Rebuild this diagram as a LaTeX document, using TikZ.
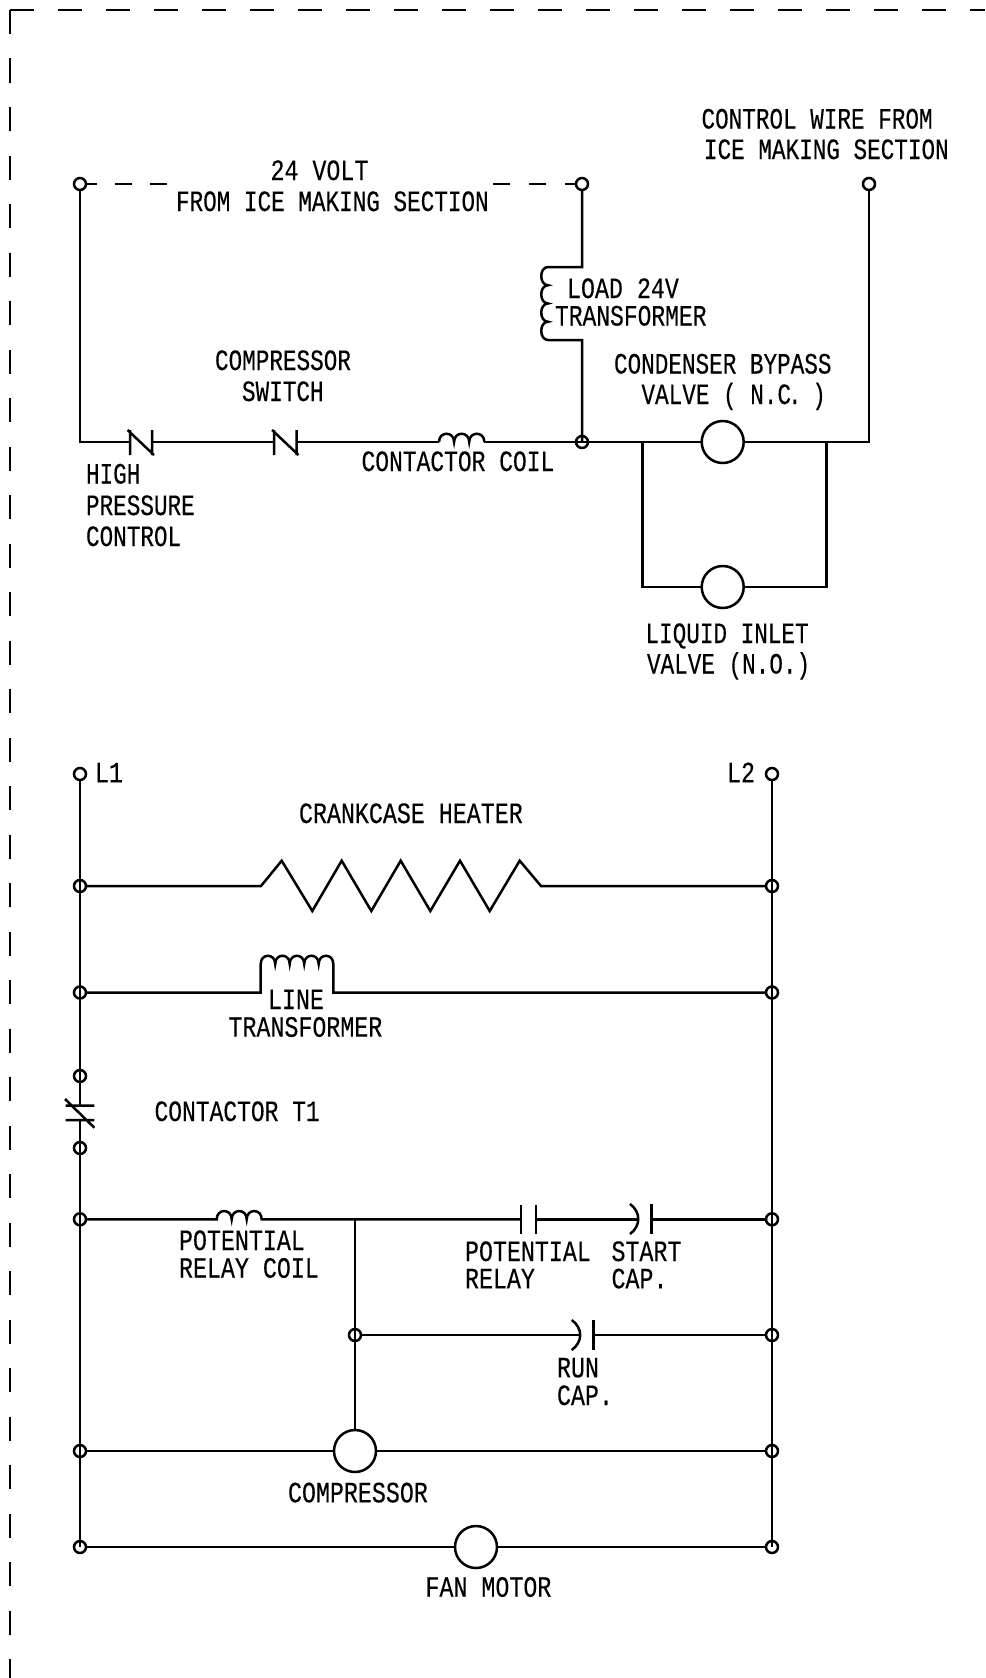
\documentclass[tikz,border=0pt]{standalone}
\usepackage{fontspec}
\newfontfamily\labfont[FakeStretch=0.79,FakeBold=0.25]{Liberation Mono}
\newfontfamily\labmid[FakeStretch=0.778,FakeBold=0.25]{Liberation Mono}
\newfontfamily\labnar[FakeStretch=0.768,FakeBold=0.25]{Liberation Mono}
\tikzset{
  wire/.style={line width=2.5pt,line join=miter,line cap=butt},
  term/.style={circle,draw,line width=2.5pt,minimum size=12pt,inner sep=0pt,outer sep=0pt},
  motor/.style={circle,draw,line width=2.5pt,minimum size=42pt,inner sep=0pt,outer sep=0pt},
  lab/.style={anchor=base west,inner sep=0pt,outer sep=0pt,font=\labfont\fontsize{29.5pt}{30pt}\selectfont},
  labm/.style={lab,font=\labmid\fontsize{29.5pt}{30pt}\selectfont},
  labn/.style={lab,font=\labnar\fontsize{29.5pt}{30pt}\selectfont},
}
\begin{document}
\begin{tikzpicture}[x=1pt,y=-1pt]
\useasboundingbox (0,0) rectangle (985,1678);
% --- outer dashed frame
\coordinate (corner) at (10,10);
\coordinate (frameR) at (985,10);
\coordinate (frameB) at (10,1678);
\draw[wire,dash pattern=on 24pt off 24pt] (corner) -- (frameR);
\draw[wire,dash pattern=on 24pt off 24.5pt] (corner) -- (frameB);

% --- upper circuit: named points
\node[term] (tA) at (80,184) {};
\node[term] (tB) at (582,184) {};
\node[term] (tC) at (869,184) {};
\node[term] (jV) at (582,442) {};
\node[motor] (vBypass) at (722.7,442) {};
\node[motor] (vLiquid) at (722.7,587) {};
\coordinate (dashL) at (167,184);
\coordinate (dashR) at (493,184);
\coordinate (cornerA) at (80,442);
\coordinate (cornerC) at (869,442);
\coordinate (sw1a) at (130,442);
\coordinate (sw1b) at (152,442);
\coordinate (sw2a) at (274,442);
\coordinate (sw2b) at (296.5,442);
\coordinate (coilA) at (439,442);
\coordinate (coilB) at (484.4,442);
\coordinate (brL) at (642.3,442);
\coordinate (brR) at (826.7,442);
\coordinate (brLb) at (642.3,587);
\coordinate (brRb) at (826.7,587);
\coordinate (loadT) at (582,267);
\coordinate (loadTc) at (548,267);
\coordinate (loadB) at (582,340);
\coordinate (loadBc) at (548,340);

\draw[wire,dash pattern=on 11pt off 18pt on 17pt off 18pt on 17pt off 100pt] (tA) -- (dashL);
\draw[wire,dash pattern=on 17pt off 19pt on 17pt off 19pt on 12pt off 100pt] (dashR) -- (tB);
\draw[wire] (tA) -- (cornerA) -- (sw1a);
% switches
\draw[wire] (130,430) -- (130,455) (152,430) -- (152,455) (127.5,430) -- (154,455);
\draw[wire] (274,430) -- (274,455) (296.5,430) -- (296.5,455) (272,430) -- (298.5,455);
\draw[wire] (sw1b) -- (sw2a);
\draw[wire] (sw2b) -- (coilA);
\draw[wire] (coilA) .. controls +(0,-11) and +(0,-11) .. ++(15.1,0)
                    .. controls +(0,-11) and +(0,-11) .. ++(15.1,0)
                    .. controls +(0,-11) and +(0,-11) .. (coilB);
\draw[wire] (coilB) -- (vBypass);
\draw[wire] (vBypass) -- (cornerC) -- (tC);
% load transformer
\draw[wire] (tB) -- (loadT) -- (loadTc)
  .. controls +(-9,0) and +(-9,0) .. ++(0,18.25)
  .. controls +(-9,0) and +(-9,0) .. ++(0,18.25)
  .. controls +(-9,0) and +(-9,0) .. ++(0,18.25)
  .. controls +(-9,0) and +(-9,0) .. (loadBc) -- (loadB) -- (jV.center);
% parallel valve
\draw[wire] (brL) -- (brLb) -- (vLiquid);
\draw[wire] (vLiquid) -- (brRb) -- (brR);

% --- lower circuit: named points
\node[term] (L1) at (80,774) {};
\node[term] (L2) at (772,774) {};
\node[term] (a1) at (80,886) {};
\node[term] (b1) at (772,886) {};
\node[term] (a2) at (80,992.5) {};
\node[term] (b2) at (772,992.5) {};
\node[term] (c1) at (80,1076) {};
\node[term] (c2) at (80,1148) {};
\node[term] (a3) at (80,1219.3) {};
\node[term] (b3) at (772,1219.3) {};
\node[term] (jRun) at (355,1335) {};
\node[term] (b4) at (772,1335) {};
\node[term] (a5) at (80,1451) {};
\node[term] (b5) at (772,1451) {};
\node[term] (a6) at (80,1547) {};
\node[term] (b6) at (772,1547) {};
\node[motor] (comp) at (355,1451) {};
\node[motor] (fan) at (476,1547) {};
\coordinate (t1a) at (80,1105.7);
\coordinate (t1b) at (80,1120);
\coordinate (jTop) at (355,1219.3);
% rails
\draw[wire] (L1) -- (t1a);
\draw[wire] (t1b) -- (a6.center);
\draw[wire] (L2) -- (b6.center);
% contactor T1
\draw[wire] (65.7,1105.7) -- (94.3,1105.7) (65.7,1120) -- (94.3,1120) (65,1099) -- (94.3,1127.7);
% heater
\coordinate (hA) at (261,886);
\coordinate (hB) at (541,886);
\draw[wire] (a1) -- (hA) -- (281.7,860.7) -- (312.3,911) -- (341.7,860.7) -- (371.3,911)
  -- (400.7,860.7) -- (430.3,911) -- (460,860.7) -- (489.7,911) -- (519.7,860.7) -- (hB) -- (b1);
% line transformer
\coordinate (ltA) at (260.7,992.5);
\coordinate (ltB) at (333.3,992.5);
\coordinate (ltAt) at (260.7,964);
\coordinate (ltBt) at (333.3,964);
\draw[wire] (a2) -- (ltA) -- (ltAt)
  .. controls +(0,-11) and +(0,-11) .. ++(14.5,0)
  .. controls +(0,-11) and +(0,-11) .. ++(14.5,0)
  .. controls +(0,-11) and +(0,-11) .. ++(14.5,0)
  .. controls +(0,-11) and +(0,-11) .. ++(14.5,0)
  .. controls +(0,-11) and +(0,-11) .. (ltBt) -- (ltB) -- (b2);
% potential relay row
\coordinate (prA) at (216.7,1219.3);
\coordinate (prB) at (261.7,1219.3);
\coordinate (rlA) at (521,1219.3);
\coordinate (rlB) at (536,1219.3);
\coordinate (scA) at (638.5,1219.3);
\coordinate (scB) at (651.3,1219.3);
\draw[wire] (a3) -- (prA)
  .. controls +(0,-11) and +(0,-11) .. ++(15,0)
  .. controls +(0,-11) and +(0,-11) .. ++(15,0)
  .. controls +(0,-11) and +(0,-11) .. (prB) -- (rlA);
\draw[wire] (521,1205) -- (521,1233.5) (536,1205) -- (536,1233.5);
\draw[wire] (rlB) -- (scA);
\draw[wire] (630,1204) .. controls (641,1212) and (641,1226) .. (630,1234);
\draw[wire] (651.3,1204) -- (651.3,1234);
\draw[wire] (scB) -- (b3);
% vertical to compressor
\draw[wire] (jTop) -- (comp);
% run cap row
\coordinate (rcA) at (580,1335);
\coordinate (rcB) at (593.3,1335);
\draw[wire] (jRun) -- (rcA);
\draw[wire] (571.7,1320) .. controls (583,1328) and (583,1342) .. (571.7,1350);
\draw[wire] (593.3,1320) -- (593.3,1350);
\draw[wire] (rcB) -- (b4);
% compressor and fan rows
\draw[wire] (a5) -- (comp);
\draw[wire] (comp) -- (b5);
\draw[wire] (a6) -- (fan);
\draw[wire] (fan) -- (b6);

% --- labels
\node[lab] (l01) at (270.5,180) {24 VOLT};
\node[labn] (l02) at (176,211) {FROM ICE MAKING SECTION};
\node[labn] (l03) at (701.5,128.5) {CONTROL WIRE FROM};
\node[labn] (l04) at (704,159) {ICE MAKING SECTION};
\node[lab] (l05) at (567,298) {LOAD 24V};
\node[labm] (l06) at (555,325.5) {TRANSFORMER};
\node[labn] (l07) at (614,373.5) {CONDENSER BYPASS};
\node[labn] (l08) at (641.5,404) {VALVE ( N.C\kern-3pt.\kern-3pt\ )};
\node[labn] (l09) at (215,370) {COMPRESSOR};
\node[labn] (l10) at (242,401) {SWITCH};
\node[labm] (l11) at (361.5,471) {CONTACTOR COIL};
\node[labn] (l12) at (86,483.5) {HIGH};
\node[labn] (l13) at (86,515) {PRESSURE};
\node[labn] (l14) at (86,546) {CONTROL};
\node[labn] (l15) at (645.5,643) {LIQUID INLET};
\node[labn] (l16) at (647,673.5) {VALVE (N.O.)};
\node[lab] (l17) at (95,782.3) {L1};
\node[lab] (l18) at (727,782.3) {L2};
\node[lab] (l19) at (299,823) {CRANKCASE HEATER};
\node[lab] (l20) at (268,1009) {LINE};
\node[lab] (l21) at (228.5,1036.7) {TRANSFORMER};
\node[labm] (l22) at (154.5,1121) {CONTACTOR T1};
\node[lab] (l23) at (179,1250) {POTENTIAL};
\node[lab] (l24) at (179,1277.7) {RELAY COIL};
\node[lab] (l25) at (465,1261) {POTENTIAL};
\node[lab] (l26) at (465,1288.3) {RELAY};
\node[lab] (l27) at (611.5,1261) {START};
\node[lab] (l28) at (611.5,1288.3) {CAP.};
\node[lab] (l29) at (557,1377.3) {RUN};
\node[lab] (l30) at (557,1405) {CAP.};
\node[lab] (l31) at (288,1502.3) {COMPRESSOR};
\node[lab] (l32) at (425.5,1596.7) {FAN MOTOR};
\end{tikzpicture}
\end{document}
